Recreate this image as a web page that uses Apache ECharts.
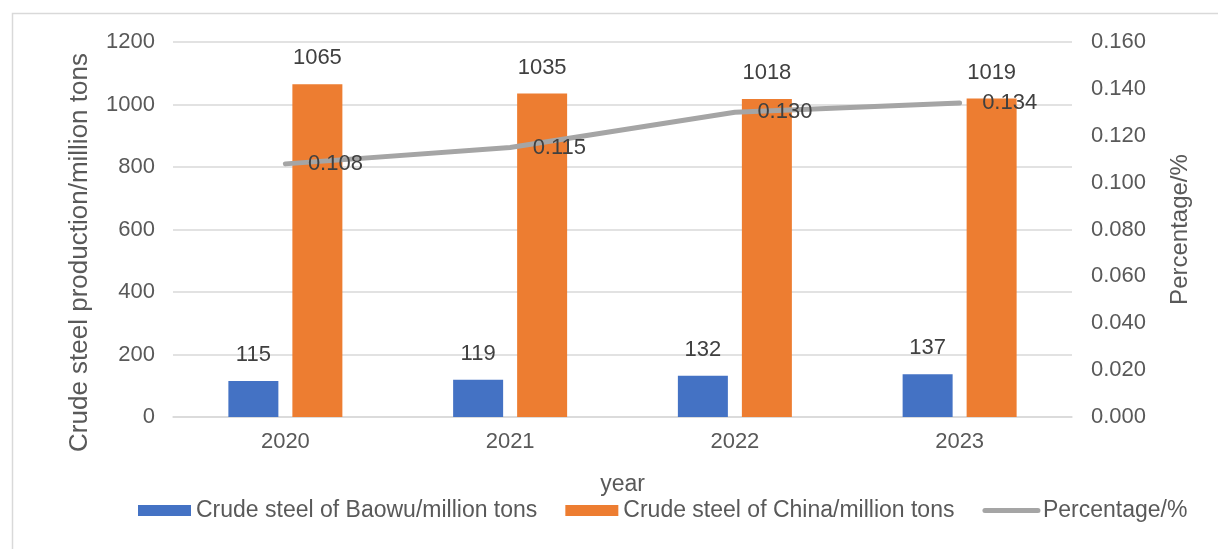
<!DOCTYPE html>
<html>
<head>
<meta charset="utf-8">
<script src="https://cdn.jsdelivr.net/npm/echarts@6/dist/echarts.min.js"></script>
<style>
html,body{margin:0;padding:0;background:#fff;}
#c{width:1218px;height:549px;}
</style>
</head>
<body>
<div id="c"></div>
<script>
const categories = ['2020', '2021', '2022', '2023'];
const baowu = [115, 119, 132, 137];
const china = [1065, 1035, 1018, 1019];
const percentage = [0.108, 0.115, 0.130, 0.134];
const seriesNames = ['Crude steel of Baowu/million tons', 'Crude steel of China/million tons', 'Percentage/%'];

const FONT = 'Liberation Sans';
const TXT = '#595959';
const chart = echarts.init(document.getElementById('c'));
chart.setOption({
  animation: false,
  textStyle: { fontFamily: FONT },
  graphic: [{
    type: 'rect', left: 10, top: 11,
    shape: { width: 1220, height: 560 },
    style: { fill: 'none', stroke: '#d9d9d9', lineWidth: 1.5 },
    silent: true
  }],
  grid: { left: 173, right: 146, top: 42, bottom: 132 },
  legend: {
    bottom: 22, left: 133,
    itemWidth: 53, itemHeight: 11, itemGap: 28,
    textStyle: { fontSize: 23, color: TXT, fontFamily: FONT },
    data: [
      { name: seriesNames[0], icon: 'rect' },
      { name: seriesNames[1], icon: 'rect' },
      { name: seriesNames[2], itemStyle: { opacity: 0 }, lineStyle: { width: 5, cap: 'round', color: '#A5A5A5' } }
    ]
  },
  xAxis: {
    type: 'category', data: categories,
    name: 'year', nameLocation: 'middle', nameGap: 56,
    nameTextStyle: { fontSize: 23, color: TXT },
    axisLine: { lineStyle: { color: '#d9d9d9', width: 1.5 } },
    axisTick: { show: false },
    axisLabel: { fontSize: 22, color: TXT, margin: 14 }
  },
  yAxis: [{
    type: 'value', min: 0, max: 1200, interval: 200,
    name: 'Crude steel production/million tons', nameLocation: 'middle', nameGap: 80,
    nameTextStyle: { fontSize: 26, color: TXT, padding: [0, 46, 0, 0] },
    axisLine: { show: false }, axisTick: { show: false },
    axisLabel: { fontSize: 22, color: TXT, margin: 18, formatter: v => String(v) },
    splitLine: { lineStyle: { color: '#d9d9d9', width: 1.5 } }
  }, {
    type: 'value', min: 0, max: 0.16, interval: 0.02,
    name: 'Percentage/%', nameLocation: 'middle', nameGap: 96,
    nameTextStyle: { fontSize: 24, color: TXT },
    axisLine: { show: false }, axisTick: { show: false },
    axisLabel: { fontSize: 22, color: TXT, margin: 19, formatter: v => v.toFixed(3) },
    splitLine: { show: false }
  }],
  series: [{
    name: seriesNames[0], type: 'bar', data: baowu,
    barWidth: 50, barGap: '28%',
    itemStyle: { color: '#4472C4' },
    label: { show: true, position: 'top', distance: 15, fontSize: 22, color: '#404040' }
  }, {
    name: seriesNames[1], type: 'bar', data: china,
    barWidth: 50,
    itemStyle: { color: '#ED7D31' },
    label: { show: true, position: 'top', distance: 15, fontSize: 22, color: '#404040' }
  }, {
    name: seriesNames[2], type: 'line', data: percentage, yAxisIndex: 1,
    symbol: 'circle', symbolSize: 1, showSymbol: true,
    lineStyle: { color: '#A5A5A5', width: 5, cap: 'round' },
    itemStyle: { color: '#A5A5A5' },
    label: { show: true, position: 'right', distance: 22, fontSize: 22, color: '#404040', formatter: p => p.value.toFixed(3) },
    z: 5
  }]
});
</script>
</body>
</html>
